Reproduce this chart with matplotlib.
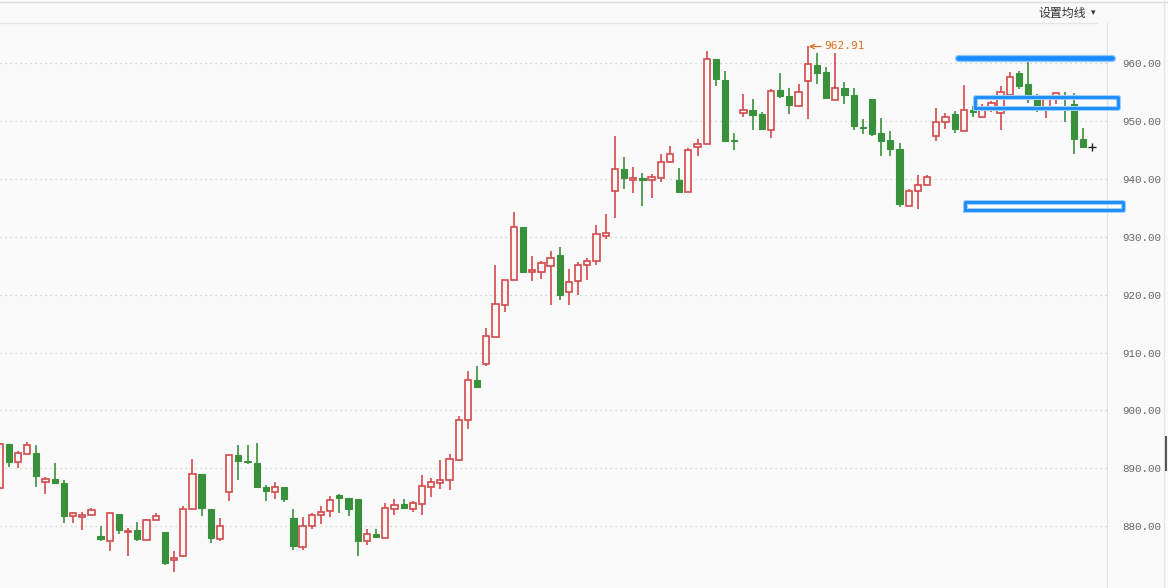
import numpy as np
import matplotlib
matplotlib.use('Agg')
import matplotlib.pyplot as plt
from matplotlib.lines import Line2D

# ================== DATI (OHLC) ==================
opens = [886.6, 894.2, 891.0, 892.4, 892.6, 887.6, 888.1, 887.5, 881.7, 881.5,
         881.9, 878.3, 877.4, 882.1, 878.9, 879.4, 877.6, 881.0, 879.0, 874.2,
         874.9, 883.0, 889.0, 883.0, 877.7, 885.9, 892.3, 891.3, 890.9, 886.7,
         885.9, 886.8, 881.4, 876.4, 880.0, 882.0, 882.6, 885.3, 884.9, 884.7,
         877.4, 878.6, 878.0, 882.9, 883.8, 883.0, 883.9, 886.8, 887.5, 887.9,
         891.5, 898.3, 905.2, 908.0, 912.7, 918.2, 922.6, 931.7, 924.0, 924.0,
         925.0, 926.8, 920.5, 922.4, 925.2, 925.9, 930.2, 937.9, 941.7, 939.8,
         940.1, 939.8, 940.1, 942.9, 939.9, 937.7, 945.6, 946.0, 960.7, 957.2,
         946.8, 951.4, 951.9, 951.2, 948.4, 955.4, 954.3, 952.7, 956.9, 959.7,
         958.5, 953.7, 955.8, 954.5, 948.9, 953.9, 948.0, 946.8, 945.2, 935.3,
         937.9, 939.0, 947.4, 949.8, 951.3, 948.3, 951.9, 950.8, 952.2, 951.4,
         954.6, 958.4, 956.5, 953.8, 952.2, 953.9, 952.2, 953.0, 946.9]
highs = [894.3, 894.2, 893.0, 894.5, 894.0, 888.5, 890.9, 888.0, 882.4, 882.4,
         883.2, 880.1, 882.2, 882.1, 879.7, 880.7, 881.2, 882.3, 879.0, 875.7,
         883.4, 891.6, 889.0, 883.0, 881.4, 892.3, 894.0, 894.0, 894.4, 887.1,
         887.6, 886.8, 883.0, 881.6, 882.2, 883.4, 885.2, 885.6, 884.9, 884.7,
         879.5, 879.5, 884.0, 884.7, 884.7, 884.4, 888.9, 888.3, 891.4, 892.4,
         899.0, 906.8, 907.6, 914.3, 925.1, 922.6, 934.3, 931.7, 926.7, 925.8,
         927.5, 928.2, 924.5, 925.7, 926.4, 932.1, 934.0, 947.4, 943.8, 942.1,
         941.1, 940.9, 944.3, 945.7, 941.9, 945.3, 946.9, 962.1, 960.7, 958.6,
         947.9, 954.7, 953.8, 951.6, 955.5, 958.3, 955.8, 956.4, 962.91, 961.7,
         959.3, 961.7, 956.7, 955.7, 950.3, 953.9, 950.5, 948.3, 946.3, 938.3,
         940.7, 940.7, 952.3, 951.4, 951.7, 956.3, 952.6, 952.9, 953.5, 956.1,
         958.5, 958.7, 960.7, 954.7, 953.9, 954.9, 955.0, 954.8, 948.8]
lows = [886.5, 890.3, 890.1, 892.4, 886.8, 885.6, 887.2, 880.6, 880.6, 879.4,
        881.9, 877.4, 875.7, 878.6, 874.9, 877.4, 877.6, 881.0, 873.2, 872.0,
        874.7, 883.0, 881.8, 877.0, 877.5, 884.3, 887.9, 890.8, 886.7, 884.4,
        884.6, 884.1, 875.9, 875.8, 879.5, 880.3, 881.5, 882.2, 881.8, 874.8,
        876.8, 878.2, 878.0, 882.0, 883.0, 882.4, 882.0, 885.1, 886.5, 886.2,
        891.2, 896.7, 904.1, 907.6, 912.7, 917.0, 922.6, 923.9, 922.4, 922.7,
        918.2, 919.1, 918.2, 920.0, 922.5, 925.2, 929.7, 933.2, 938.2, 937.6,
        935.4, 936.8, 939.5, 942.7, 937.8, 937.7, 943.9, 946.0, 956.0, 946.4,
        945.0, 950.8, 948.5, 948.7, 947.1, 954.0, 951.2, 952.4, 950.3, 956.5,
        953.9, 953.7, 952.9, 948.4, 947.7, 947.4, 943.9, 943.9, 935.1, 935.3,
        934.8, 939.0, 946.5, 948.6, 948.0, 948.3, 950.8, 950.8, 951.5, 948.5,
        953.9, 955.5, 953.1, 951.6, 950.6, 953.0, 949.9, 944.4, 945.6]
closes = [894.2, 891.1, 892.6, 894.0, 888.6, 888.1, 887.5, 881.8, 882.2, 881.9,
          882.8, 877.7, 882.2, 879.3, 879.1, 877.7, 881.1, 881.7, 873.7, 874.4,
          883.0, 889.0, 883.1, 877.9, 880.0, 892.3, 891.3, 891.0, 886.7, 886.0,
          886.7, 884.6, 876.5, 880.0, 881.9, 882.4, 884.5, 884.9, 882.9, 877.4,
          878.6, 878.2, 883.1, 883.6, 883.2, 884.0, 887.0, 887.6, 887.9, 891.6,
          898.3, 905.3, 904.1, 912.9, 918.4, 922.5, 931.7, 923.9, 924.2, 925.5,
          926.4, 919.9, 922.2, 925.2, 925.9, 930.5, 930.6, 941.7, 940.1, 940.1,
          939.9, 940.3, 942.9, 944.3, 937.8, 945.1, 946.0, 960.7, 957.3, 946.5,
          946.6, 951.9, 951.1, 948.7, 955.2, 954.4, 952.8, 955.1, 959.9, 958.4,
          954.0, 955.7, 954.6, 949.2, 948.8, 947.8, 946.5, 945.2, 935.6, 937.9,
          939.0, 940.3, 949.9, 950.7, 948.7, 951.9, 951.5, 952.2, 953.2, 955.0,
          957.6, 956.1, 954.1, 952.6, 953.9, 954.9, 952.0, 947.0, 945.6]

y_ticks = [880, 890, 900, 910, 920, 930, 940, 950, 960]
max_label = '962.91'
menu_label = '设置均线'

# linee disegnate a mano (blu): indice candela e prezzo
line_top = ([104.4, 121.1], [961.0, 961.0])
box_mid = (106.2, 121.8, 952.2, 954.1)
box_low = (105.1, 122.3, 934.7, 936.1)

# ================== GRAFICO ==================
RED = '#d34a4c'
GREEN = '#3a913c'
BG = '#fafafa'

W, H = 1168, 588
fig = plt.figure(figsize=(W / 100, H / 100), dpi=100, facecolor=BG)
ax = fig.add_axes([0, 0, 1107 / W, 565 / H], facecolor=BG)

x = np.arange(len(opens))
o = np.array(opens)
c = np.array(closes)
up = c >= o

# stoppini
ax.vlines(x[up], np.array(lows)[up], np.array(highs)[up], color=RED, lw=1.2, zorder=2)
ax.vlines(x[~up], np.array(lows)[~up], np.array(highs)[~up], color=GREEN, lw=1.2, zorder=2)

# corpi
body = np.maximum(np.abs(c - o), 0.15)
bottom = np.minimum(o, c)
ax.bar(x[up], body[up], bottom=bottom[up], width=0.68, facecolor='#fdf8f8',
       edgecolor=RED, linewidth=1.2, zorder=3)
ax.bar(x[~up], body[~up], bottom=bottom[~up], width=0.68, facecolor=GREEN,
       edgecolor=GREEN, linewidth=0.8, zorder=3)

# cursore
ax.plot([len(opens)], [945.5], marker='+', color='#222222', ms=6, mew=1, zorder=4)

# massimo
imax = int(np.argmax(highs))
ax.annotate(max_label, xy=(imax + 0.1, highs[imax]), xytext=(11, 0),
            textcoords='offset points', va='center', ha='left',
            fontsize=8, family='DejaVu Sans Mono', color='#e07020',
            arrowprops=dict(arrowstyle='->', color='#e07020', lw=0.9,
                            shrinkA=0, shrinkB=0))

# linee blu
ax.plot(*line_top, color='#8cc8ff', lw=5.2, solid_capstyle='round', zorder=5, clip_on=False)
ax.plot(*line_top, color='#1a8cff', lw=3.4, solid_capstyle='round', zorder=6, clip_on=False)
for x0, x1, y0, y1 in (box_mid, box_low):
    xs = [x0, x1, x1, x0, x0]
    ys = [y0, y0, y1, y1, y0]
    ax.plot(xs, ys, color='#9ccfff', lw=3.6, solid_joinstyle='round', zorder=5, clip_on=False)
    ax.plot(xs, ys, color='#1a8cff', lw=2.0, solid_joinstyle='round', zorder=6, clip_on=False)

# assi
ax.set_xlim(0.05, 1107 / 9.18)
ax.set_ylim(869.3, 966.97)
ax.set_yticks(y_ticks)
ax.set_yticklabels([f'{v:.2f}' for v in y_ticks])
ax.yaxis.tick_right()
ax.tick_params(axis='y', length=0, pad=11, labelsize=7.8, labelcolor='#666666')
for lab in ax.get_yticklabels():
    lab.set_family('Liberation Mono')
ax.set_xticks([])
ax.grid(axis='y', color='#c8c8c8', linestyle=(0, (1, 3)), lw=0.9)
for s in ['top', 'left', 'bottom']:
    ax.spines[s].set_visible(False)
ax.spines['right'].set_color('#e2e2e2')

# cornice superiore e menu
fig.add_artist(Line2D([0, 1], [1 - 1.5 / H, 1 - 1.5 / H], color='#dcdcdc', lw=1))
fig.add_artist(Line2D([0, 1097 / W], [1 - 23 / H, 1 - 23 / H], color='#e6e6e6', lw=1))
fig.add_artist(Line2D([1164 / W, 1164 / W], [0, 1], color='#e6e6e6', lw=1))
fig.add_artist(Line2D([1166 / W, 1166 / W], [1 - 437 / H, 1 - 470 / H], color='#555555', lw=1.5))
fig.text(1038 / W, 1 - 13 / H, menu_label, family=['Noto Sans CJK SC', 'DejaVu Sans'],
         fontsize=8.6, color='#333333', va='center', ha='left')
fig.text(1091 / W, 1 - 13 / H, '▾', family=['DejaVu Sans'], fontsize=6.5,
         color='#333333', va='center', ha='left')

fig.savefig('out.png', dpi=100, facecolor=BG)
